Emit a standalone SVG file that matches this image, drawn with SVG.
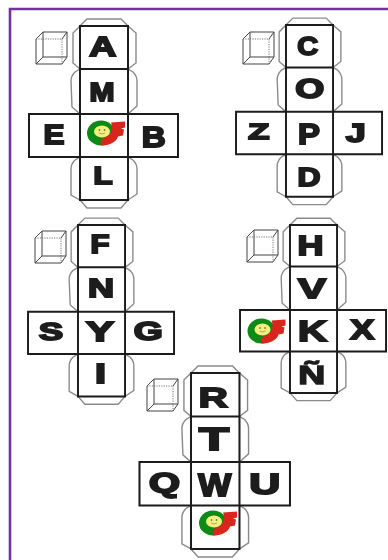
<svg xmlns="http://www.w3.org/2000/svg" width="388" height="560" viewBox="0 0 388 560">
<style>
text{font-family:"Liberation Sans",Arial,sans-serif;font-weight:700;fill:#1c1c1c;stroke:#1c1c1c;stroke-width:1.9;stroke-linejoin:miter;text-anchor:middle}
.flap{fill:none;stroke:#8a8a8a;stroke-width:1.4}
.grid{fill:none;stroke:#1c1c1c;stroke-width:2}
.cube{fill:none;stroke:#444;stroke-width:1}
.dot{fill:none;stroke:#666;stroke-width:.9;stroke-dasharray:1.2 1.2}
</style>
<defs>
<filter id="soft" x="-2%" y="-2%" width="104%" height="104%"><feGaussianBlur stdDeviation="0.35"/></filter>
<g id="net">
<path class="flap" d="M0,0L7,-7H41L48,0M0,0L-7,7V37L0,43M48,0L56,7V37L48,43M0,43L-5,46Q-9,50 -9,55L-8,81L0,88M48,43L53,46Q57,50 57,55V80L48,88M0,131L-5,134Q-9,138 -9,143V169L0,174M48,131L53,134Q57,138 57,143V168L48,174M0,174L7,182H41L48,174"/>
<path class="grid" d="M0,0H48V174H0ZM0,43H48M0,88H48M0,131H48M0,88H-51V131H0M48,88H98V131H48M0,88V131M48,88V131"/>
</g>
<g id="cube">
<path class="cube" d="M0,7L7,0H31V25L26,32H0ZM7,0V25H31M7,25L0,32M31,0L26,7"/>
<path class="dot" d="M7,7H26V32M0,7H7"/>
</g>
<g id="logo">
<ellipse cx="14" cy="12.500" rx="14" ry="12.500" fill="#0a8a12"/>
<path fill="#d8281e" d="M24,2L38,1V7L34,8L37,9L36,15L31,16C30,21 22,25.500 14,25C13,21 14,18.500 17,17C23,16 27,9 24,2Z"/>
<ellipse cx="15" cy="11" rx="8" ry="6" fill="#f4ee7a"/>
<circle cx="12.500" cy="9.500" r=".8" fill="#444"/><circle cx="17.500" cy="9.500" r=".8" fill="#444"/>
<path d="M12,12.500Q15,14.500 18,12.500" fill="none" stroke="#777" stroke-width=".6"/>
</g>
</defs>
<rect width="388" height="560" fill="#fff"/>
<g filter="url(#soft)">
<path id="frame" d="M10,560V9H388" fill="none" stroke="#7030a0" stroke-width="2.6"/>
<g id="connectors"/>
<g id="net-a">
<use href="#net" transform="translate(80,26)"/>
<use href="#cube" transform="translate(36,32)"/>
<text x="102.700" y="56" font-size="28.500" textLength="27" lengthAdjust="spacingAndGlyphs">A</text>
<text x="102" y="100.500" font-size="25.500" textLength="25" lengthAdjust="spacingAndGlyphs">M</text>
<text x="54" y="144" font-size="28.500" textLength="21" lengthAdjust="spacingAndGlyphs">E</text>
<text x="153.700" y="146.500" font-size="29.500" textLength="24" lengthAdjust="spacingAndGlyphs">B</text>
<text x="103" y="184" font-size="23.500" textLength="19" lengthAdjust="spacingAndGlyphs">L</text>
<use href="#logo" transform="translate(87,120.500)"/>
</g>
<g id="net-c">
<use href="#net" transform="translate(286,25) scale(.98,.987)"/>
<use href="#cube" transform="translate(243,32)"/>
<text x="307.700" y="54.500" font-size="26.500" textLength="21" lengthAdjust="spacingAndGlyphs">C</text>
<text x="309.700" y="98" font-size="27.500" textLength="29" lengthAdjust="spacingAndGlyphs">O</text>
<text x="258.700" y="139" font-size="22.500" textLength="21" lengthAdjust="spacingAndGlyphs">Z</text>
<text x="309" y="144" font-size="29.500" textLength="22" lengthAdjust="spacingAndGlyphs">P</text>
<text x="355.700" y="141.500" font-size="26.500" textLength="20" lengthAdjust="spacingAndGlyphs">J</text>
<text x="309" y="186" font-size="26.500" textLength="23" lengthAdjust="spacingAndGlyphs">D</text>
</g>
<g id="net-f">
<use href="#net" transform="translate(78,225) scale(.98,.985)"/>
<use href="#cube" transform="translate(35,231)"/>
<text x="100" y="252.500" font-size="25.500" textLength="19" lengthAdjust="spacingAndGlyphs">F</text>
<text x="101" y="296.500" font-size="26.500" textLength="26" lengthAdjust="spacingAndGlyphs">N</text>
<text x="51" y="340" font-size="23.500" textLength="24" lengthAdjust="spacingAndGlyphs">S</text>
<text x="100" y="340.500" font-size="28.500" textLength="28" lengthAdjust="spacingAndGlyphs">Y</text>
<text x="148.200" y="339.500" font-size="26.500" textLength="29" lengthAdjust="spacingAndGlyphs">G</text>
<text x="100.500" y="382.500" font-size="28.500" textLength="11" lengthAdjust="spacingAndGlyphs">I</text>
</g>
<g id="net-h">
<use href="#net" transform="translate(290,225) scale(.98,.965)"/>
<use href="#cube" transform="translate(247,230)"/>
<text x="310.500" y="254.500" font-size="28.500" textLength="26" lengthAdjust="spacingAndGlyphs">H</text>
<text x="312" y="297.500" font-size="28.500" textLength="28" lengthAdjust="spacingAndGlyphs">V</text>
<text x="312.500" y="340.500" font-size="29.500" textLength="29" lengthAdjust="spacingAndGlyphs">K</text>
<text x="362.200" y="339" font-size="28.500" textLength="24" lengthAdjust="spacingAndGlyphs">X</text>
<text x="311.700" y="384" font-size="26.500" textLength="27" lengthAdjust="spacingAndGlyphs" style="stroke-width:1.4">Ñ</text>
<use href="#logo" transform="translate(247.500,318.500)"/>
</g>
<g id="net-r">
<use href="#net" transform="translate(191,373) scale(1.01,1.011)"/>
<use href="#cube" transform="translate(147,379)"/>
<text x="213.300" y="406.500" font-size="28.500" textLength="29" lengthAdjust="spacingAndGlyphs">R</text>
<text x="214" y="450" font-size="30.500" textLength="30" lengthAdjust="spacingAndGlyphs">T</text>
<text x="164.500" y="491.500" font-size="27.500" textLength="31" lengthAdjust="spacingAndGlyphs">Q</text>
<text x="214.700" y="495.500" font-size="30.500" textLength="33" lengthAdjust="spacingAndGlyphs">W</text>
<text x="264.700" y="494" font-size="29.500" textLength="31" lengthAdjust="spacingAndGlyphs">U</text>
<use href="#logo" transform="translate(199,510.500)"/>
</g>
</g>
</svg>
